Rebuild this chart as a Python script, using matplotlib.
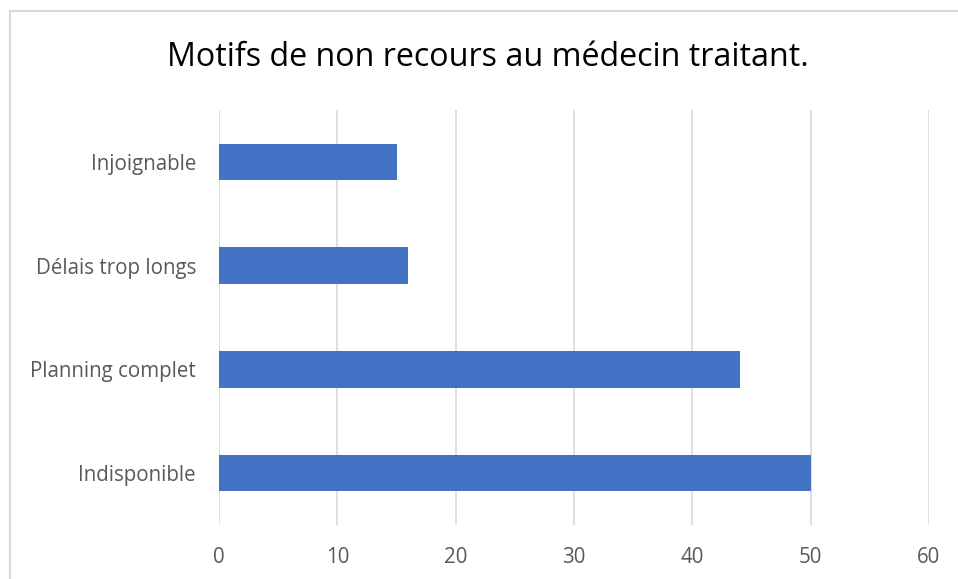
import matplotlib.pyplot as plt
from matplotlib.patches import Rectangle

categories = ["Indisponible", "Planning complet", "Délais trop longs", "Injoignable"]
values = [50, 44, 16, 15]
xticks = [0, 10, 20, 30, 40, 50, 60]

plt.rcParams['font.family'] = ['Open Sans', 'DejaVu Sans']

W, H = 958, 579
fig = plt.figure(figsize=(W / 100, H / 100), dpi=100)
ax = fig.add_axes([219 / W, 1 - 525 / H, (929 - 219) / W, (525 - 110) / H])

ax.barh(range(len(categories)), values, height=0.35, color="#4472C4", zorder=3)
ax.set_xlim(0, 60)
ax.set_ylim(-0.5, len(categories) - 0.5)
ax.set_xticks(xticks)
ax.set_yticks(range(len(categories)))
ax.set_yticklabels(categories)
ax.grid(axis="x", color="#D9D9D9", linewidth=1.2, zorder=0)
for s in ax.spines.values():
    s.set_visible(False)
ax.tick_params(length=0, labelsize=14.8, labelcolor="#595959")
ax.tick_params(axis="y", pad=16.5)
ax.tick_params(axis="x", pad=16)

fig.text(488 / W, 1 - 57 / H, "Motifs de non recours au médecin traitant.",
         ha="center", va="center", fontsize=23.2, color="#000000")

# chart frame
fig.patches.append(Rectangle((10 / W, -0.05), 1.1, 1 - 11 / H + 0.05,
                             transform=fig.transFigure, fill=False,
                             edgecolor="#D9D9D9", linewidth=1.5))

fig.savefig("out.png", dpi=100)
